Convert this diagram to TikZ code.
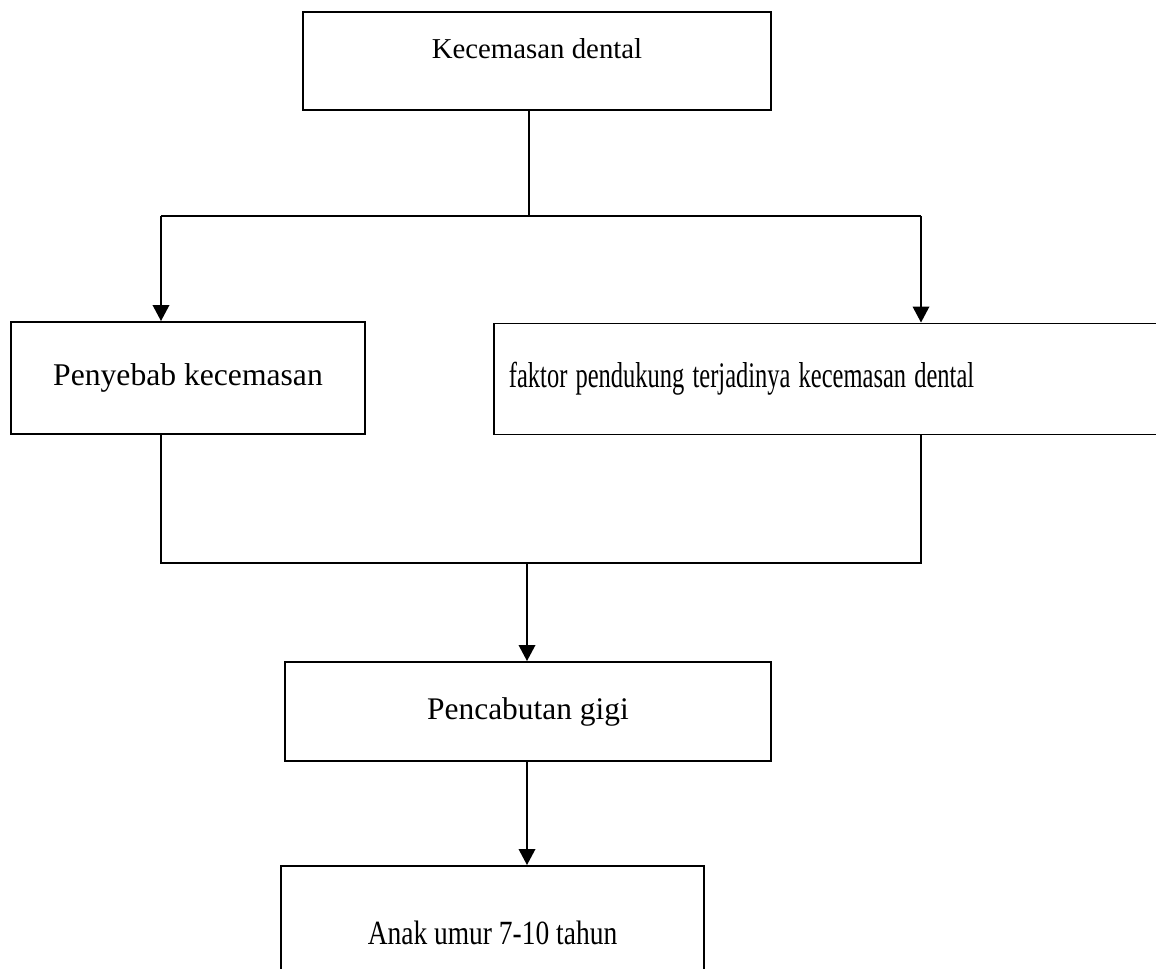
\documentclass[tikz,border=0pt]{standalone}
\usepackage{fontspec}
\setmainfont{Liberation Serif}
\usetikzlibrary{arrows.meta,positioning}

\begin{document}
\begin{tikzpicture}[
  x=0.02cm, y=-0.02cm,
  every node/.style={draw, line width=1.1pt, inner sep=0pt, align=center},
  line/.style={line width=1.1pt},
  arrow/.style={line width=1.1pt, -{Triangle[length=0.32cm, width=0.33cm]}}
]
\useasboundingbox (0,0) rectangle (1156,969);

\node (dental) at (537,61) [minimum width=9.36cm, minimum height=1.96cm,
  text depth=0.5cm, font=\fontsize{16.4}{19}\selectfont] {Kecemasan dental};
\node (penyebab) at (188,378) [minimum width=7.08cm, minimum height=2.24cm,
  font=\fontsize{18}{21}\selectfont] {Penyebab kecemasan};
\node (faktor) at (493,379) [anchor=west, minimum width=13.8cm, minimum height=2.22cm,
  text width=13.2cm, align=left, font=\fontsize{20.5}{23}\selectfont]
  {\scalebox{0.68}[1]{faktor pendukung terjadinya kecemasan dental}};
\node (cabut) at (528,711.5) [minimum width=9.72cm, minimum height=1.98cm,
  font=\fontsize{17.9}{21}\selectfont] {Pencabutan gigi};
\node (anak) at (492.5,933) [minimum width=8.46cm, minimum height=2.68cm,
  font=\fontsize{19.3}{22}\selectfont] {\scalebox{0.81}[1]{Anak umur 7-10 tahun}};

% cabang atas
\coordinate (pisah) at (529,216);
\coordinate (kiri) at (161,216);
\coordinate (kanan) at (921,216);
\draw[line] (dental.south -| pisah) -- (pisah);
\draw[line] (kiri) -- (kanan);
\draw[arrow] (kiri) -- (kiri |- penyebab.north);
\draw[arrow] (kanan) -- (kanan |- faktor.north);

% gabung bawah
\coordinate (gabung) at (527,563);
\coordinate (kiri2) at (161,563);
\coordinate (kanan2) at (921,563);
\draw[line] (kiri2 |- penyebab.south) -- (kiri2) -- (kanan2) -- (kanan2 |- faktor.south);
\draw[arrow] (gabung) -- (gabung |- cabut.north);
\draw[arrow] (gabung |- cabut.south) -- (gabung |- anak.north);

\end{tikzpicture}
\end{document}
